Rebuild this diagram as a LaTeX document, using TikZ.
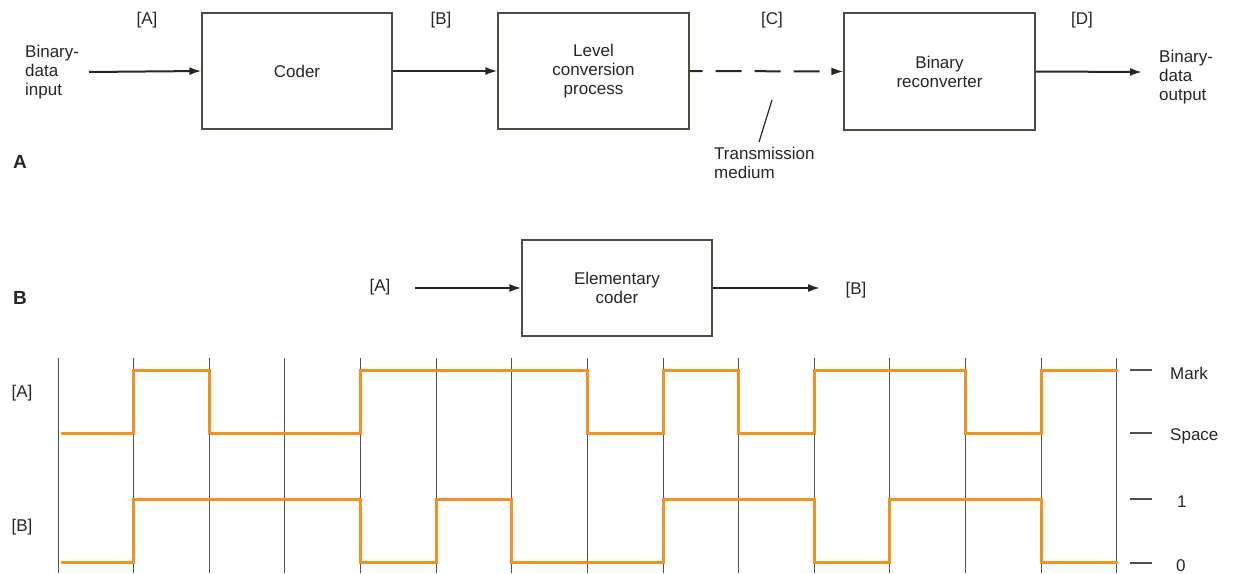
\documentclass[tikz,border=0pt]{standalone}
\usepackage{fontspec}
\setmainfont{Liberation Sans}
\usetikzlibrary{arrows.meta}
\definecolor{ink}{RGB}{35,40,35}
\definecolor{gridc}{RGB}{75,85,70}
\definecolor{wave}{RGB}{242,146,36}
\definecolor{boxc}{RGB}{70,80,65}
\begin{document}
\begin{tikzpicture}[x=1pt,y=-1pt,
  every node/.style={text=ink,font=\fontsize{17}{19}\selectfont},
  blk/.style={draw=boxc,line width=1.2pt,inner sep=0pt,align=center},
  arr/.style={draw=ink,line width=2pt,-{Latex[length=12pt,width=8pt]}},
  txt/.style={align=left,inner sep=0pt},
  lab/.style={inner sep=0pt},
  big/.style={inner sep=0pt,font=\fontsize{19}{20}\selectfont\bfseries},
  gridline/.style={draw=gridc,line width=0.9pt},
  wavel/.style={draw=wave,line width=3pt,line join=miter,line cap=round},
  tick/.style={draw=gridc,line width=1.4pt}]
\useasboundingbox (0,0) rectangle (1234,573);

% ---------- Part A ----------
\node[blk,minimum width=190pt,minimum height=116pt] (coder) at (297,71) {Coder};
\node[blk,minimum width=191pt,minimum height=116pt] (lvl) at (593.5,71) {Level\\conversion\\process};
\node[blk,minimum width=191pt,minimum height=117pt] (rec) at (939.5,71.5) {Binary\\reconverter};

\node[txt,anchor=west] (inp) at (25,72) {Binary-\\data\\input};
\coordinate (inA) at (89,72);
\draw[arr] (inA) -- (coder.west);
\draw[arr] (coder.east) -- (lvl.west);
\draw[arr,dash pattern=on 26pt off 13pt,dash phase=13pt] (lvl.east) -- (rec.west);
\coordinate (outA) at (1142,72);
\draw[arr] (rec.east) -- (outA);
\node[txt,anchor=west] (outp) at (1159,77) {Binary-\\data\\output};

\node[lab] (la) at (147,20) {[A]};
\node[lab] (lb) at (441,20) {[B]};
\node[lab] (lc) at (772,20) {[C]};
\node[lab] (ld) at (1082,20) {[D]};

\node[txt,anchor=west] (tm) at (714,163) {Transmission\\medium};
\coordinate (tmtop) at (772,100);
\coordinate (tmbot) at (759,142);
\draw[draw=ink,line width=1.2pt] (tmtop) -- (tmbot);

\node[big] (partA) at (20,162) {A};

% ---------- Part B ----------
\node[big] (partB) at (20,298) {B};
\node[blk,minimum width=190pt,minimum height=96pt] (ec) at (617,288) {Elementary\\coder};
\node[lab] (ea) at (380,287) {[A]};
\node[lab] (eb) at (856,290) {[B]};
\coordinate (ecin) at (415,288);
\coordinate (ecout) at (820,288);
\draw[arr] (ecin) -- (ec.west);
\draw[arr] (ec.east) -- (ecout);

% grid
\foreach \k in {0,...,14}{
  \draw[gridline] ({58+75.63*\k},358) -- ({58+75.63*\k},573);
}

% waveform A
\draw[wavel] (62,433) -| (133.6,370) -| (209.3,433) -| (360.5,370) -| (587.4,433)
  -| (663,370) -| (738.7,433) -| (814.3,370) -| (965.6,433) -| (1041.2,370) -- (1116.8,370);
% waveform B
\draw[wavel] (62,562.5) -| (133.6,499) -| (360.5,562.5) -| (436.2,499) -| (511.8,562.5)
  -| (663,499) -| (814.3,562.5) -| (889.9,499) -| (1041.2,562.5) -- (1116.8,562.5);

\node[lab] (wa) at (22,393) {[A]};
\node[lab] (wb) at (22,527) {[B]};

% level markers
\foreach \yy/\tx/\xx/\nm in {370/Mark/1170/m, 433/Space/1170/s, 499/1/1177/o, 563/0/1176/z}{
  \draw[tick] (1130,\yy) -- (1152,\yy);
  \node[lab,anchor=west] (lev\nm) at (\xx,\yy+3) {\tx};
}
\end{tikzpicture}
\end{document}
